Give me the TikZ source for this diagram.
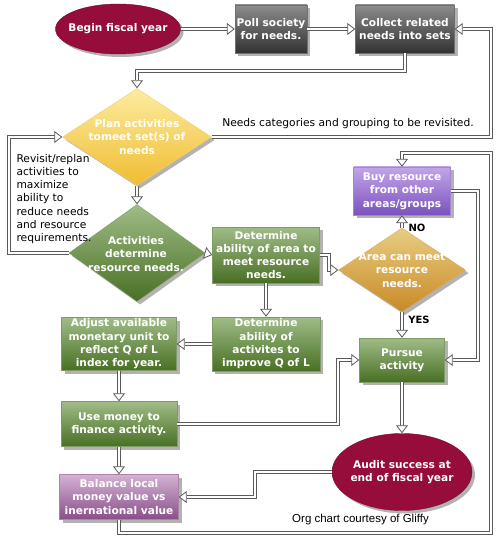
\documentclass[tikz,border=0pt]{standalone}
\usepackage{fontspec}
\setmainfont{DejaVu Sans}
\newfontfamily\arialfont{Liberation Sans}
\usetikzlibrary{shapes.geometric, shadows, arrows.meta, calc}

\definecolor{maroonA}{RGB}{150,12,58}
\definecolor{grayT}{RGB}{140,140,140}
\definecolor{grayB}{RGB}{50,50,50}
\definecolor{greenT}{RGB}{160,188,135}
\definecolor{greenB}{RGB}{72,112,36}
\definecolor{purpT}{RGB}{195,165,232}
\definecolor{purpB}{RGB}{122,82,190}
\definecolor{pinkT}{RGB}{210,178,210}
\definecolor{pinkB}{RGB}{138,78,138}
\definecolor{goldT}{RGB}{232,205,130}
\definecolor{goldB}{RGB}{200,138,38}
\definecolor{yelT}{RGB}{252,236,160}
\definecolor{yelB}{RGB}{240,188,50}
\definecolor{lineC}{RGB}{90,90,90}

\begin{document}
\begin{tikzpicture}[x=1pt,y=-1pt,
  shad/.style={drop shadow={shadow xshift=3pt, shadow yshift=-3pt, fill=black!30, opacity=1}},
  box/.style={rectangle, shad, draw=#1B!70, line width=0.4pt, top color=#1T, bottom color=#1B,
    inner sep=0.5pt, align=center, text=white, font=\bfseries\fontsize{10.6}{13.3}\selectfont},
  diam/.style={diamond, shad, inner sep=0pt, top color=#1T, bottom color=#1B, draw=#1B!70, line width=0.4pt},
  ell/.style={ellipse, shad, inner sep=0pt, fill=maroonA, draw=maroonA!80!black, line width=0.4pt},
  ntext/.style={align=center, text=white, font=\bfseries\fontsize{10.6}{13.3}\selectfont},
  lbl/.style={text=black, font=\fontsize{10.7}{13.3}\selectfont},
  conn/.style={draw=lineC, line width=0.8pt, double=white, double distance=2.2pt, line join=miter,
    -{Triangle[open, fill=white, length=8pt, width=12pt, line width=0.8pt]}}
]
\useasboundingbox (0,0) rectangle (500,540);
\fill[white] (0,0) rectangle (500,540);

% helper coordinates (integer positions for crisp lines)
\coordinate (cR1) at (491,137);
\coordinate (cR2) at (491,29);
\coordinate (cL1) at (9,253);
\coordinate (cL2) at (9,137);
\coordinate (cT1) at (405,71);
\coordinate (cT2) at (137,71);
\coordinate (cB1) at (119,533);
\coordinate (cB2) at (491,533);
\coordinate (cB3) at (491,153);
\coordinate (cB4) at (402,153);
\coordinate (xd1) at (329,0);
\coordinate (xbuy) at (478,0);
\coordinate (xuse) at (338,0);
\coordinate (xaud) at (255,0);

% nodes
\node[ell, minimum width=125pt, minimum height=50pt] (begin) at (118,29) {};
\node[ntext] (beginT) at (begin) {Begin fiscal year};
\node[box=gray, minimum width=72pt, minimum height=48pt] (poll) at (271,29) {Poll society\\for needs.};
\node[box=gray, minimum width=99pt, minimum height=48pt] (collect) at (405,29) {Collect related\\needs into sets};
\node[diam=yel, minimum width=149pt, minimum height=97pt] (plan) at (137,137) {};
\node[ntext, text=white!97!yellow] (planT) at (plan) {Plan activities\\tomeet set(s) of\\needs};
\node[diam=green, minimum width=136pt, minimum height=97pt] (act) at (137,253) {};
\node[ntext] (actT) at (136,254) {Activities\\determine\\resource needs.};
\node[box=green, minimum width=107pt, minimum height=56pt] (det1) at (266,255) {Determine\\ability of area to\\meet resource\\needs.};
\node[diam=gold, minimum width=127pt, minimum height=84pt] (area) at (402,270) {};
\node[ntext] (areaT) at (area) {Area can meet\\resource\\needs.};
\node[box=purp, minimum width=97pt, minimum height=48pt] (buy) at (402,191) {Buy resource\\from other\\areas/groups};
\node[box=green, minimum width=85pt, minimum height=44pt] (pursue) at (402,360) {Pursue\\activity};
\node[box=green, minimum width=108pt, minimum height=54pt] (det2) at (266,344) {Determine\\ability of\\activites to\\improve Q of L};
\node[box=green, minimum width=115pt, minimum height=53pt] (adjust) at (119,344) {Adjust available\\monetary unit to\\reflect Q of L\\index for year.};
\node[box=green, minimum width=116pt, minimum height=45pt] (use) at (119,424) {Use money to\\finance activity.};
\node[box=pink, minimum width=119pt, minimum height=45pt] (balance) at (119,497) {Balance local\\money value vs\\inernational value};
\node[ell, minimum width=140pt, minimum height=77pt] (audit) at (402,472) {};
\node[ntext] (auditT) at (audit) {Audit success at\\end of fiscal year};

% labels
\node[lbl] (needsL) at (348,124) {Needs categories and grouping to be revisited.};
\node[lbl, align=left, anchor=west] (revL) at (13,199) {Revisit/replan\\activities to\\maximize\\ability to\\reduce needs\\and resource\\requirements.};
\node[lbl, font=\bfseries\fontsize{10}{12}\selectfont] (noL) at (417,228) {NO};
\node[lbl, font=\bfseries\fontsize{10}{12}\selectfont] (yesL) at (419,320) {YES};
\node[text=black, font=\arialfont\fontsize{11.5}{13}\selectfont] (credit) at (360.5,520) {Org chart courtesy of Gliffy};

% connectors
\draw[conn] (begin.east) -- (poll.west);
\draw[conn] (poll.east) -- (collect.west);
\draw[conn] (collect.south) -- (cT1) -- (cT2) -- (plan.north);
\draw[conn] (plan.east) -- (cR1) -- (cR2) -- (collect.east);
\draw[conn] (plan.south) -- (act.north);
\draw[conn] (act.west) -- (cL1) -- (cL2) -- (plan.west);
\draw[conn] (act.east) -- (det1.west);
\draw[conn] (det1.east) -- (det1.east -| xd1) |- (area.west);
\draw[conn] (area.north) -- (buy.south);
\draw[conn] (area.south) -- (pursue.north);
\draw[conn] (buy.east) -- (buy.east -| xbuy) |- (pursue.east);
\draw[conn] (det1.south) -- (det2.north);
\draw[conn] (det2.west) -- (adjust.east);
\draw[conn] (adjust.south) -- (use.north);
\draw[conn] (use.east) -- (use.east -| xuse) |- (pursue.west);
\draw[conn] (use.south) -- (balance.north);
\draw[conn] (pursue.south) -- (audit.north);
\draw[conn] (audit.west) -- (audit.west -| xaud) |- (balance.east);
\draw[conn] (balance.south) -- (cB1) -- (cB2) -- (cB3) -- (cB4) -- (buy.north);
\end{tikzpicture}
\end{document}
